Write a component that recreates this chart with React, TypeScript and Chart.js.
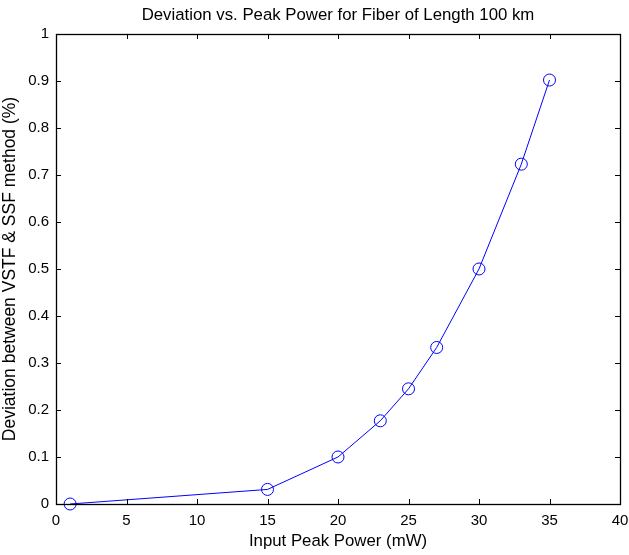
import React, { useEffect, useRef } from "react";
import { Chart, registerables } from "chart.js";

Chart.register(...registerables);

const powers = [1, 15, 20, 23, 25, 27, 30, 33, 35];
const deviations = [0, 0.031, 0.1, 0.177, 0.245, 0.333, 0.5, 0.723, 0.902];
const xTicks = [0, 5, 10, 15, 20, 25, 30, 35, 40];
const yTicks = [0, 0.1, 0.2, 0.3, 0.4, 0.5, 0.6, 0.7, 0.8, 0.9, 1];

const titleText = "Deviation vs. Peak Power for Fiber of Length 100 km";
const xLabel = "Input Peak Power (mW)";
const yLabel = "Deviation between VSTF & SSF method (%)";

const FONT = "'Liberation Sans', Arial, Helvetica, sans-serif";

const boxPlugin = {
  id: "matlabBox",
  afterDatasetsDraw(chart: any) {
    const { ctx, chartArea } = chart;
    const { left, right, top, bottom } = chartArea;
    const xs = chart.scales.x;
    const ys = chart.scales.y;
    const tl = 5;
    ctx.save();
    ctx.strokeStyle = "#000";
    ctx.lineWidth = 1;
    ctx.beginPath();
    xTicks.forEach((v) => {
      const px = Math.round(xs.getPixelForValue(v)) + 0.5;
      ctx.moveTo(px, bottom);
      ctx.lineTo(px, bottom - tl);
      ctx.moveTo(px, top);
      ctx.lineTo(px, top + tl);
    });
    yTicks.forEach((v) => {
      const py = Math.round(ys.getPixelForValue(v)) + 0.5;
      ctx.moveTo(left, py);
      ctx.lineTo(left + tl, py);
      ctx.moveTo(right, py);
      ctx.lineTo(right - tl, py);
    });
    ctx.stroke();
    ctx.restore();
  },
  afterDraw(chart: any) {
    const { ctx, chartArea } = chart;
    const { left, right, top, bottom } = chartArea;
    ctx.save();
    ctx.strokeStyle = "#000";
    ctx.lineWidth = 1.3;
    ctx.strokeRect(Math.round(left) + 0.5, Math.round(top) + 0.5, Math.round(right - left), Math.round(bottom - top));
    ctx.restore();
  },
};

export default function App() {
  const ref = useRef<HTMLCanvasElement | null>(null);
  useEffect(() => {
    if (!ref.current) return;
    const chart = new Chart(ref.current, {
      type: "line",
      data: {
        datasets: [
          {
            data: powers.map((p, i) => ({ x: p, y: deviations[i] })),
            borderColor: "#0000ff",
            borderWidth: 1,
            backgroundColor: "rgba(0,0,0,0)",
            pointStyle: "circle",
            pointRadius: 6,
            pointBorderWidth: 1,
            pointBorderColor: "#0000ff",
            pointBackgroundColor: "rgba(0,0,0,0)",
            tension: 0,
            clip: false as any,
          },
        ],
      },
      options: {
        responsive: false,
        animation: false,
        events: [],
        layout: { padding: { left: 0, right: 9, top: 0, bottom: 0 } },
        plugins: {
          legend: { display: false },
          tooltip: { enabled: false },
          title: {
            display: true,
            text: titleText,
            fullSize: false,
            color: "#000",
            font: { family: FONT, size: 16.8, weight: "normal" },
            padding: { top: 5, bottom: 8.8 },
          },
        },
        scales: {
          x: {
            type: "linear",
            min: 0,
            max: 40,
            afterBuildTicks: (s: any) => {
              s.ticks = xTicks.map((v) => ({ value: v }));
            },
            afterFit: (s: any) => {
              s.height = 51;
              s.paddingLeft = 0;
              s.paddingRight = 0;
            },
            grid: { display: false, drawTicks: false },
            border: { display: false },
            ticks: {
              color: "#000",
              padding: 8,
              maxRotation: 0,
              font: { family: FONT, size: 15 },
            },
            title: {
              display: true,
              text: xLabel,
              color: "#000",
              font: { family: FONT, size: 16.8 },
              padding: { top: 0, bottom: 4 },
            },
          },
          y: {
            type: "linear",
            min: 0,
            max: 1,
            afterBuildTicks: (s: any) => {
              s.ticks = yTicks.map((v) => ({ value: v }));
            },
            afterFit: (s: any) => {
              s.width = 56;
              s.paddingTop = 0;
              s.paddingBottom = 0;
            },
            grid: { display: false, drawTicks: false },
            border: { display: false },
            ticks: {
              color: "#000",
              padding: 7,
              font: { family: FONT, size: 15 },
              callback: (v: any) => String(Math.round(Number(v) * 10) / 10),
            },
            title: {
              display: true,
              text: yLabel,
              color: "#000",
              font: { family: FONT, size: 17.5 },
              padding: { top: 0, bottom: 0 },
            },
          },
        },
      },
      plugins: [boxPlugin],
    });
    return () => chart.destroy();
  }, []);
  return (
    <div style={{ position: "fixed", left: 0, top: 0, width: 629, height: 555, background: "#fff" }}>
      <canvas ref={ref} width={629} height={555} style={{ display: "block" }} />
    </div>
  );
}
